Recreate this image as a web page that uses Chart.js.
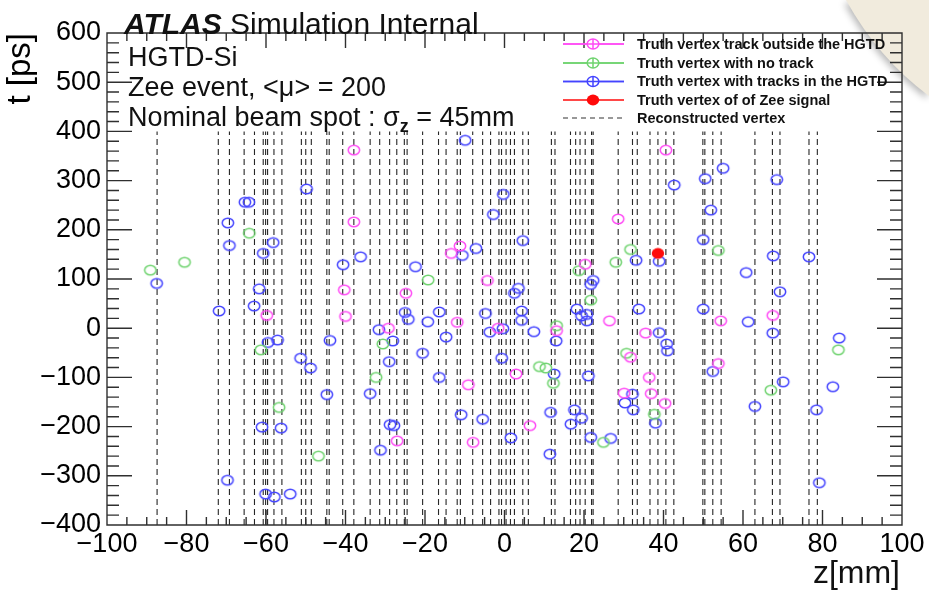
<!DOCTYPE html>
<html>
<head>
<meta charset="utf-8">
<script src="https://cdn.jsdelivr.net/npm/chart.js@4.4.1/dist/chart.umd.min.js"></script>
<style>
  html, body { margin: 0; padding: 0; background: #ffffff; }
  #wrap { width: 929px; height: 591px; position: relative; }
</style>
</head>
<body>
<div id="wrap"><canvas id="c" width="929" height="591"></canvas></div>
<script>
// Axis ticks
const zTicks = [-100, -80, -60, -40, -20, 0, 20, 40, 60, 80, 100];
const tTicks = [-400, -300, -200, -100, 0, 100, 200, 300, 400, 500, 600];

// Reconstructed vertex positions z [mm]
const recoVertexZ = [-87.4, -72.0, -69.2, -65.5, -62.9, -60.7, -60.1, -59.6, -58.0, -56.0,
  -51.1, -50.0, -48.6, -44.7, -44.1, -40.7, -37.9, -33.8, -31.4, -28.9, -27.1, -25.2, -24.5,
  -20.6, -16.6, -14.7, -11.9, -11.1, -8.0, -5.5, -3.5, -1.4, -0.75, 0.4, 1.5, 2.5, 4.6, 6.0,
  11.8, 12.7, 16.6, 17.9, 19.0, 20.3, 21.9, 22.3, 28.6, 32.2, 33.4, 36.6, 38.6, 40.6, 42.6,
  49.9, 50.4, 52.4, 54.5, 63.0, 67.4, 69.3, 76.6, 78.7];

// Truth vertices [z mm, t ps]
const truthOutside = [[-37.9, 362], [-37.9, 216], [-40.3, 78], [-59.8, 26], [-40.0, 24],
  [-29.2, 0], [-11.2, 167], [-13.4, 152], [28.6, 222], [-4.3, 97], [20.3, 130], [-24.8, 71],
  [-11.9, 12], [26.4, 15], [-1.6, 0], [13.1, -5], [35.5, -10], [2.9, -93], [-9.1, -115],
  [31.7, -59], [36.4, -100], [36.9, -133], [30.1, -132], [6.4, -198], [-7.9, -232],
  [-27.0, -229], [40.6, 362], [54.4, 15], [67.5, 26], [53.8, -72], [40.4, -153]];

const truthNoTrack = [[-89.1, 118], [-80.5, 134], [-64.2, 193], [-61.3, -44], [-32.3, -100],
  [-56.7, -161], [-46.8, -260], [-30.6, -32], [-19.2, 98], [18.7, 117], [21.7, 57], [13.1, 5],
  [8.8, -78], [10.4, -81], [12.3, -112], [24.9, -232], [28.0, 134], [31.7, 160], [30.7, -51],
  [37.7, -175], [53.8, 158], [67.0, -126], [84.0, -44]];

const truthInHGTD = [[-49.8, 283], [-65.3, 256], [-64.3, 256], [-69.6, 214], [-69.2, 168],
  [-58.2, 174], [-60.7, 152], [-36.2, 145], [-40.6, 129], [-87.5, 91], [-61.7, 80], [-63.0, 45],
  [-71.8, 35], [-31.6, -3], [-59.5, -29], [-57.1, -24], [-43.9, -25], [-51.3, -61], [-48.8, -81],
  [-44.7, -135], [-33.8, -133], [-61.0, -201], [-56.2, -203], [-31.2, -248], [-69.7, -309],
  [-60.1, -337], [-57.9, -343], [-53.9, -337], [-28.1, -26], [-29.0, -68], [-28.8, -196],
  [-27.8, -198], [-9.9, 382], [-0.3, 272], [-2.8, 231], [4.6, 178], [33.1, 138], [38.9, 136],
  [-10.6, 148], [-7.2, 162], [-22.4, 125], [22.3, 97], [21.7, 89], [3.5, 81], [2.5, 71],
  [-25.0, 32], [-24.2, 18], [-16.4, 33], [-19.3, 13], [-4.8, 30], [4.3, 35], [4.3, 16],
  [18.2, 39], [19.4, 25], [20.7, 28], [20.7, 15], [33.8, 39], [-0.4, -1], [-3.7, -8], [7.4, -7],
  [-14.7, -18], [38.9, -9], [13.0, -26], [-20.6, -51], [-0.7, -61], [12.5, -93], [-16.4, -100],
  [21.1, -97], [32.2, -134], [30.3, -152], [32.4, -166], [38.0, -193], [11.6, -171],
  [17.6, -166], [19.4, -183], [16.7, -195], [-10.9, -176], [-5.5, -185], [1.6, -223],
  [21.7, -222], [26.7, -224], [11.4, -256], [55.0, 325], [50.5, 304], [68.5, 302], [42.7, 291],
  [51.9, 240], [50.0, 180], [67.6, 147], [76.6, 145], [60.8, 113], [69.3, 74], [50.0, 39],
  [61.3, 13], [67.5, -10], [84.2, -20], [40.8, -32], [41.0, -46], [52.4, -88], [70.1, -109],
  [82.6, -119], [63.0, -159], [78.5, -166], [79.2, -314]];

const zeeSignal = [[38.6, 152]];

const FONT = "'Liberation Sans', Arial, Helvetica, sans-serif";
const PINK = '#ff4bf5';
const GREEN = '#6fd36f';
const BLUE = '#4444ff';
const RED = '#ff0a0a';

// Ring / dot marker drawn on a small canvas, used as point style
function marker(color, filled) {
  const c = document.createElement('canvas');
  c.width = 16; c.height = 14;
  const g = c.getContext('2d');
  g.beginPath();
  g.ellipse(8, 7, filled ? 6.2 : 5.7, filled ? 5.4 : 4.8, 0, 0, Math.PI * 2);
  if (filled) { g.fillStyle = color; g.fill(); }
  else { g.strokeStyle = color; g.lineWidth = 1.5; g.stroke(); }
  return c;
}

const toXY = arr => arr.map(([x, y]) => ({ x, y }));
const minus = v => (v < 0 ? '\u2212' + Math.abs(v) : String(v));

// Page-corner decoration
const cornerPlugin = {
  id: 'corner',
  beforeDraw(chart) {
    const ctx = chart.ctx;
    ctx.save();
    ctx.shadowColor = 'rgba(0,0,0,0.28)';
    ctx.shadowBlur = 7;
    ctx.shadowOffsetX = -2;
    ctx.shadowOffsetY = 3;
    ctx.fillStyle = '#f1ebdd';
    ctx.beginPath();
    ctx.moveTo(846, 0);
    ctx.quadraticCurveTo(878, 58, 929, 96);
    ctx.lineTo(929, 0);
    ctx.closePath();
    ctx.fill();
    ctx.restore();
  }
};

// Frame, inward ticks and text
const overlayPlugin = {
  id: 'overlay',
  afterDraw(chart) {
    const { ctx, chartArea: a, scales: { x, y } } = chart;
    ctx.save();
    ctx.strokeStyle = '#2f2f2f';
    ctx.lineWidth = 1.4;
    ctx.beginPath();
    ctx.rect(a.left, a.top, a.right - a.left, a.bottom - a.top);
    for (let v = tTicks[0]; v <= tTicks[tTicks.length - 1]; v += 20) {
      const py = y.getPixelForValue(v);
      const len = v % 100 === 0 ? 25 : 12;
      ctx.moveTo(a.left, py); ctx.lineTo(a.left + len, py);
      ctx.moveTo(a.right, py); ctx.lineTo(a.right - len, py);
    }
    for (let v = zTicks[0]; v <= zTicks[zTicks.length - 1]; v += 5) {
      const px = x.getPixelForValue(v);
      const len = v % 20 === 0 ? 15 : 8;
      ctx.moveTo(px, a.bottom); ctx.lineTo(px, a.bottom - len);
      ctx.moveTo(px, a.top); ctx.lineTo(px, a.top + len);
    }
    ctx.stroke();
    ctx.restore();

    ctx.save();
    ctx.fillStyle = '#111';
    ctx.textBaseline = 'alphabetic';
    ctx.textAlign = 'left';

    ctx.font = 'italic bold 30px ' + FONT;
    ctx.fillText('ATLAS', 124, 34);
    const w = ctx.measureText('ATLAS ').width;
    ctx.font = '30px ' + FONT;
    ctx.fillText('Simulation Internal', 124 + w, 34);

    ctx.font = '27px ' + FONT;
    ctx.fillText('HGTD-Si', 128, 66);
    ctx.fillText('Zee event, <\u03bc> = 200', 128, 96);
    const part1 = 'Nominal beam spot : \u03c3';
    ctx.fillText(part1, 128, 126);
    let px = 128 + ctx.measureText(part1).width;
    ctx.font = 'bold 18px ' + FONT;
    ctx.fillText('z', px, 132);
    px += ctx.measureText('z').width;
    ctx.font = '27px ' + FONT;
    ctx.fillText(' = 45mm', px, 126);

    // x-axis title
    ctx.font = '32px ' + FONT;
    ctx.textAlign = 'right';
    ctx.fillText('z[mm]', 900, 583);
    ctx.textAlign = 'left';

    // legend
    const rows = [
      { label: 'Truth vertex track outside the HGTD', color: PINK, kind: 'ring' },
      { label: 'Truth vertex with no track', color: GREEN, kind: 'ring' },
      { label: 'Truth vertex with tracks in the HGTD', color: BLUE, kind: 'ring' },
      { label: 'Truth vertex of of Zee signal', color: RED, kind: 'dot' },
      { label: 'Reconstructed vertex', color: '#333', kind: 'dash' }
    ];
    const ys = [44, 63, 81.5, 100, 118];
    rows.forEach((r, i) => {
      const yy = ys[i];
      ctx.save();
      ctx.strokeStyle = r.color;
      ctx.lineWidth = 1.6;
      if (r.kind === 'dash') { ctx.setLineDash([5, 4]); ctx.lineWidth = 1.2; }
      ctx.beginPath();
      ctx.moveTo(563, yy); ctx.lineTo(624, yy);
      ctx.stroke();
      ctx.setLineDash([]);
      if (r.kind === 'ring') {
        ctx.beginPath();
        ctx.ellipse(593, yy, 5.8, 5.0, 0, 0, Math.PI * 2);
        ctx.fillStyle = '#fff';
        ctx.fill();
        ctx.lineWidth = 1.5;
        ctx.stroke();
        ctx.beginPath();
        ctx.moveTo(563, yy); ctx.lineTo(624, yy);
        ctx.moveTo(593, yy - 5); ctx.lineTo(593, yy + 5);
        ctx.stroke();
      } else if (r.kind === 'dot') {
        ctx.beginPath();
        ctx.ellipse(593, yy, 6.2, 5.4, 0, 0, Math.PI * 2);
        ctx.fillStyle = r.color;
        ctx.fill();
      }
      ctx.restore();
      ctx.font = 'bold 14.5px ' + FONT;
      ctx.fillStyle = '#111';
      ctx.textBaseline = 'middle';
      ctx.fillText(r.label, 637, yy + 0.5);
    });
    ctx.restore();
  }
};

const recoLines = recoVertexZ.flatMap(z => [{ x: z, y: -400 }, { x: z, y: 400 }, { x: z, y: null }]);

new Chart(document.getElementById('c'), {
  type: 'scatter',
  data: {
    datasets: [
      {
        type: 'line', label: 'Reconstructed vertex', data: recoLines,
        borderColor: '#262626', borderWidth: 1.1, borderDash: [6, 4],
        pointRadius: 0, spanGaps: false, tension: 0, order: 3
      },
      { label: 'Truth vertex track outside the HGTD', data: toXY(truthOutside),
        pointStyle: marker(PINK, false), pointRadius: 6, order: 2 },
      { label: 'Truth vertex with no track', data: toXY(truthNoTrack),
        pointStyle: marker(GREEN, false), pointRadius: 6, order: 2 },
      { label: 'Truth vertex with tracks in the HGTD', data: toXY(truthInHGTD),
        pointStyle: marker(BLUE, false), pointRadius: 6, order: 2 },
      { label: 'Truth vertex of of Zee signal', data: toXY(zeeSignal),
        pointStyle: marker(RED, true), pointRadius: 6, order: 1 }
    ]
  },
  options: {
    responsive: false,
    animation: false,
    devicePixelRatio: 1,
    layout: { padding: { top: 33, right: 27, bottom: 0, left: 0 } },
    plugins: { legend: { display: false }, tooltip: { enabled: false } },
    scales: {
      x: {
        type: 'linear', min: zTicks[0], max: zTicks[zTicks.length - 1],
        afterBuildTicks: s => { s.ticks = zTicks.map(v => ({ value: v })); },
        afterFit: s => { s.height = 66; },
        grid: { display: false, drawTicks: false },
        border: { display: false },
        ticks: { autoSkip: false, maxRotation: 0, padding: 3, color: '#000',
          font: { family: FONT, size: 27 }, callback: v => minus(v) },
        title: { display: false }
      },
      y: {
        type: 'linear', min: tTicks[0], max: tTicks[tTicks.length - 1],
        afterBuildTicks: s => { s.ticks = tTicks.map(v => ({ value: v })); },
        afterFit: s => { s.width = 107; },
        grid: { display: false, drawTicks: false },
        border: { display: false },
        ticks: { autoSkip: false, padding: 6, color: '#000',
          font: { family: FONT, size: 27 }, callback: v => minus(v) },
        title: { display: true, text: 't [ps]', align: 'end', color: '#000',
          font: { family: FONT, size: 33 }, padding: { top: 1, bottom: 0 } }
      }
    }
  },
  plugins: [cornerPlugin, overlayPlugin]
});
</script>
</body>
</html>
